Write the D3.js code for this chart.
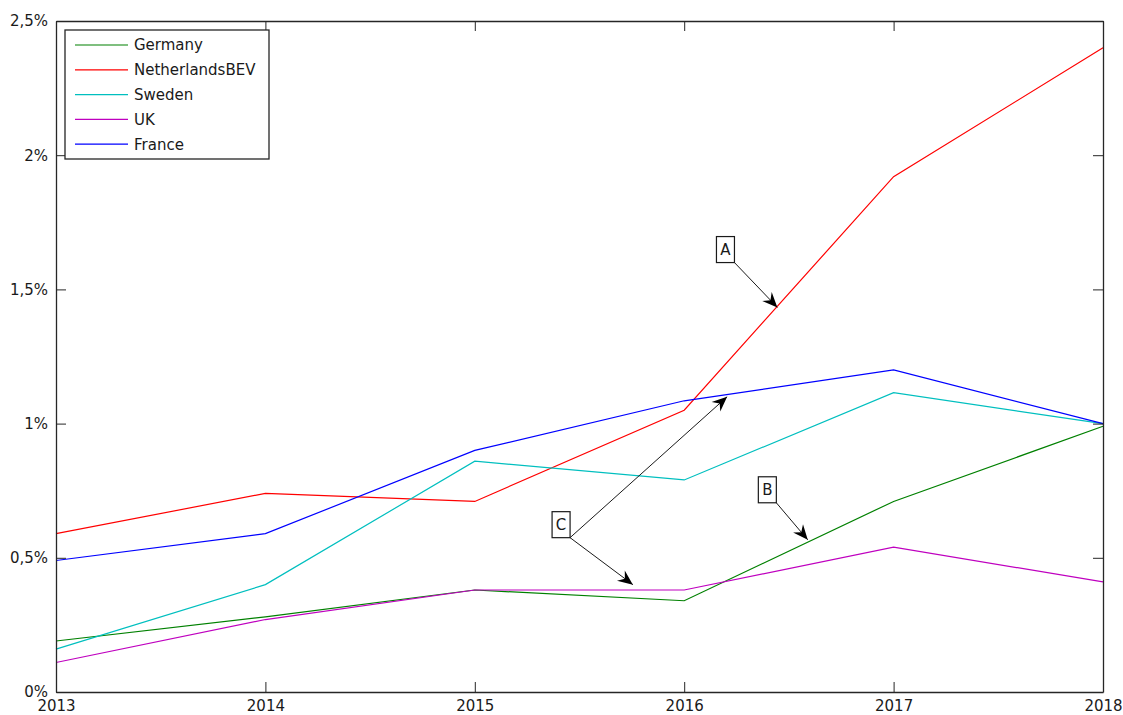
<!DOCTYPE html>
<html>
<head>
<meta charset="utf-8">
<script src="https://cdn.jsdelivr.net/npm/d3@7"></script>
<style>
  html, body { margin: 0; padding: 0; background: #fff; }
  svg { display: block; font-family: "DejaVu Sans", sans-serif; }
</style>
</head>
<body>
<svg id="chart" width="1123" height="715"></svg>
<script>
// Share of electric vehicles in new registrations, 2013–2018 (percent)
const years = [2013, 2014, 2015, 2016, 2017, 2018];
const germany     = [0.19, 0.28, 0.38, 0.34, 0.71, 0.99];
const netherlands = [0.59, 0.74, 0.71, 1.05, 1.92, 2.40];
const sweden      = [0.16, 0.40, 0.86, 0.79, 1.115, 1.00];
const uk          = [0.11, 0.27, 0.38, 0.38, 0.54, 0.41];
const france      = [0.49, 0.59, 0.90, 1.085, 1.20, 1.00];

const seriesNames  = ["Germany", "NetherlandsBEV", "Sweden", "UK", "France"];
const seriesValues = [germany, netherlands, sweden, uk, france];
const seriesColors = ["#008000", "#ff0000", "#00bfbf", "#bf00bf", "#0000ff"];

const yTicks = [0, 0.5, 1, 1.5, 2, 2.5];
const yTickLabels = ["0%", "0,5%", "1%", "1,5%", "2%", "2,5%"];

// Callouts: label, text-box anchor (year, %) and arrow tips (year, %)
const calloutLabels = ["A", "B", "C"];
const calloutAnchors = [[2016.24, 1.60], [2016.44, 0.705], [2015.455, 0.575]];
const calloutTips = [
  [[2016.445, 1.433]],
  [[2016.59, 0.567]],
  [[2016.205, 1.10], [2015.755, 0.40]]
];

const svg = d3.select("#chart");
const margin = { left: 56, right: 20, top: 21, bottom: 23 };
const W = 1123, H = 715;

const x = d3.scaleLinear().domain([2013, 2018]).range([margin.left, W - margin.right]);
const y = d3.scaleLinear().domain([0, 2.5]).range([H - margin.bottom, margin.top]);

const axisColor = "#262626";
const textColor = "#1a1a1a";
const tickLen = 10;
const fontSize = 15;
const fontFamily = "'DejaVu Sans', sans-serif";

// Series lines
const line = d3.line().x((d, i) => x(years[i])).y(d => y(d));
seriesValues.forEach((vals, k) => {
  svg.append("path")
    .datum(vals)
    .attr("fill", "none")
    .attr("stroke", seriesColors[k])
    .attr("stroke-width", 1.2)
    .attr("d", line);
});

// Axes: box with inward ticks on all four sides
const bottomAxis = d3.axisBottom(x).tickValues(years).tickFormat(d3.format("d"))
  .tickSizeInner(-tickLen).tickSizeOuter(0).tickPadding(8);
const topAxis = d3.axisTop(x).tickValues(years).tickFormat("")
  .tickSizeInner(-tickLen).tickSizeOuter(0);
const leftAxis = d3.axisLeft(y).tickValues(yTicks).tickFormat((d, i) => yTickLabels[i])
  .tickSizeInner(-tickLen).tickSizeOuter(0).tickPadding(8);
const rightAxis = d3.axisRight(y).tickValues(yTicks).tickFormat("")
  .tickSizeInner(-tickLen).tickSizeOuter(0);

function styleAxis(g) {
  g.selectAll("path.domain").attr("stroke", axisColor).attr("stroke-width", 1.3);
  g.selectAll(".tick line").attr("stroke", axisColor).attr("stroke-width", 1);
  g.selectAll(".tick text").attr("fill", textColor).style("font-size", fontSize + "px")
    .style("font-family", fontFamily);
}

svg.append("g").attr("transform", `translate(0,${y(0)})`).call(bottomAxis).call(styleAxis);
svg.append("g").attr("transform", `translate(0,${y(2.5)})`).call(topAxis).call(styleAxis);
svg.append("g").attr("transform", `translate(${x(2013)},0)`).call(leftAxis).call(styleAxis);
svg.append("g").attr("transform", `translate(${x(2018)},0)`).call(rightAxis).call(styleAxis);

// Legend
const legend = svg.append("g").attr("transform", `translate(${x(2013) + 9},${y(2.5) + 9})`);
const rowH = 24.8;
legend.append("rect")
  .attr("x", 0).attr("y", 0)
  .attr("width", 204).attr("height", 129)
  .attr("fill", "#fff").attr("stroke", axisColor).attr("stroke-width", 1.3);
seriesNames.forEach((name, k) => {
  const cy = 15 + k * rowH;
  legend.append("line")
    .attr("x1", 10).attr("x2", 63).attr("y1", cy).attr("y2", cy)
    .attr("stroke", seriesColors[k]).attr("stroke-width", 1.2);
  legend.append("text")
    .attr("x", 69).attr("y", cy).attr("dy", "0.36em")
    .attr("fill", textColor).style("font-size", fontSize + "px")
    .text(name);
});

// Arrow head (barbed) marker
svg.append("defs").append("marker")
  .attr("id", "arrowhead")
  .attr("viewBox", "-16 -7 17 14")
  .attr("refX", 0).attr("refY", 0)
  .attr("markerWidth", 17).attr("markerHeight", 14)
  .attr("markerUnits", "userSpaceOnUse")
  .attr("orient", "auto")
  .append("path")
  .attr("d", "M0,0 L-15,-6.5 L-10,0 L-15,6.5 Z")
  .attr("fill", "#000");

// Callouts
calloutLabels.forEach((lab, i) => {
  const [ax, ay] = calloutAnchors[i];
  const px = x(ax), py = y(ay);
  calloutTips[i].forEach(([tx, ty]) => {
    svg.append("line")
      .attr("x1", px).attr("y1", py)
      .attr("x2", x(tx)).attr("y2", y(ty))
      .attr("stroke", textColor).attr("stroke-width", 1)
      .attr("marker-end", "url(#arrowhead)");
  });
  const bw = 18, bh = 26;
  svg.append("rect")
    .attr("x", px - bw).attr("y", py - bh)
    .attr("width", bw).attr("height", bh)
    .attr("fill", "#fff").attr("stroke", textColor).attr("stroke-width", 1.2);
  svg.append("text")
    .attr("x", px - bw / 2).attr("y", py - bh / 2).attr("dy", "0.36em")
    .attr("text-anchor", "middle")
    .attr("fill", textColor).style("font-size", fontSize + "px")
    .text(lab);
});
</script>
</body>
</html>
